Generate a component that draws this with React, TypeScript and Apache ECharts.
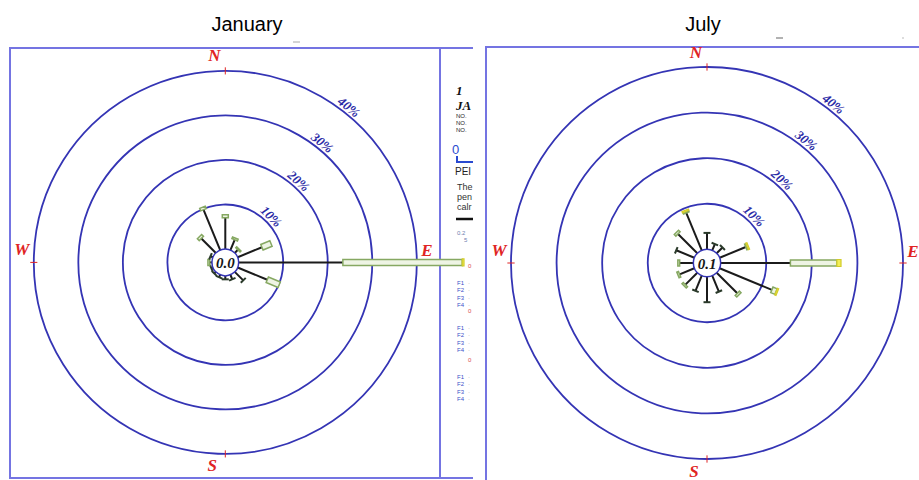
import React, { useEffect, useRef } from 'react';
import * as echarts from 'echarts';

const TITLES = ['January', 'July'];
const DIRECTIONS = ['N', 'NNE', 'NE', 'ENE', 'E', 'ESE', 'SE', 'SSE', 'S', 'SSW', 'SW', 'WSW', 'W', 'WNW', 'NW', 'NNW'];
const RING_LEVELS = [10, 20, 30, 40];
const RING_LABELS = ['10%', '20%', '30%', '40%'];
const RING_LABEL_ANGLES = [45, 42, 39, 38.5];
const COMPASS = ['N', 'E', 'S', 'W'];
const COMPASS_ANGLES = [0, 90, 180, 270];
const CALM_VALUES = ['0.0', '0.1'];

// percent frequency per speed class (class 1 = thin line, class 2 = bar, class 3 = tip)
const janClass1 = [7.0, 2.5, 1.0, 5.9, 23.4, 7.2, 2.7, 1.1, 0.8, 0.6, 0.5, 0.4, 0.5, 0.6, 4.6, 9.8];
const janClass2 = [0.7, 0.4, 0.3, 2.2, 26.8, 2.9, 0, 0, 0, 0, 0, 0, 0.4, 0, 0.6, 0.6];
const janClass3 = [0, 0, 0, 0, 0.4, 0, 0, 0, 0, 0, 0, 0, 0, 0, 0, 0];

const julClass1 = [3.6, 1.5, 1.8, 6.2, 15.3, 12.4, 6.4, 3.8, 5.6, 3.6, 3.7, 3.5, 3.0, 4.3, 6.0, 8.9];
const julClass2 = [0, 0, 0, 0.3, 10.2, 1.0, 0.5, 0, 0, 0, 0.4, 0.4, 0.4, 0, 0.5, 0.3];
const julClass3 = [0, 0, 0, 0.3, 0.9, 0.3, 0, 0, 0, 0, 0, 0, 0, 0, 0, 0.3];

const LEGEND_F = ['F1', 'F2', 'F3', 'F4'];

const AXIS_MIN = -3;
const AXIS_MAX = 40;

const RING_COLOR = '#3434b4';
const FRAME_COLOR = '#7474e2';
const RED = '#e02424';
const SERIF = '"Liberation Serif", "DejaVu Serif", serif';
const SANS = '"Liberation Sans", Arial, sans-serif';

function unit(api: any, ang: number) {
  const c = api.coord([AXIS_MIN, ang]);
  const f = api.coord([AXIS_MAX, ang]);
  const dx = f[0] - c[0];
  const dy = f[1] - c[1];
  const l = Math.sqrt(dx * dx + dy * dy) || 1;
  return { c, ux: dx / l, uy: dy / l };
}

function barPoly(a: number[], b: number[], nx: number, ny: number, w: number) {
  const h = w / 2;
  return [
    [a[0] + nx * h, a[1] + ny * h],
    [b[0] + nx * h, b[1] + ny * h],
    [b[0] - nx * h, b[1] - ny * h],
    [a[0] - nx * h, a[1] - ny * h],
  ];
}

function spokeRenderer(c1: number[], c2: number[], c3: number[]) {
  return (params: any, api: any) => {
    const i = params.dataIndex;
    const ang = i * 22.5;
    const { ux, uy } = unit(api, ang);
    const nx = -uy;
    const ny = ux;
    const e1 = c1[i];
    const e2 = e1 + c2[i];
    const e3 = e2 + c3[i];
    const p0 = api.coord([0, ang]);
    const p1 = api.coord([e1, ang]);
    const children: any[] = [
      {
        type: 'line',
        shape: { x1: p0[0], y1: p0[1], x2: p1[0], y2: p1[1] },
        style: { stroke: '#1b1b1b', lineWidth: 2 },
      },
    ];
    if (c2[i] > 0) {
      const p2 = api.coord([e2, ang]);
      children.push({
        type: 'polygon',
        shape: { points: barPoly(p1, p2, nx, ny, 6) },
        style: { fill: '#eef4e4', stroke: '#86a862', lineWidth: 1.5 },
      });
      if (c3[i] > 0) {
        const p3 = api.coord([e3, ang]);
        children.push({
          type: 'polygon',
          shape: { points: barPoly(p2, p3, nx, ny, 7) },
          style: { fill: '#f2ee58', stroke: '#d2cc2a', lineWidth: 1.2 },
        });
      }
    } else {
      children.push({
        type: 'line',
        shape: {
          x1: p1[0] - nx * 3.5,
          y1: p1[1] - ny * 3.5,
          x2: p1[0] + nx * 3.5,
          y2: p1[1] + ny * 3.5,
        },
        style: { stroke: '#2a3a2a', lineWidth: 2 },
      });
    }
    return { type: 'group', children };
  };
}

function ringRenderer(params: any, api: any) {
  const i = params.dataIndex;
  const v = RING_LEVELS[i];
  const c = api.coord([AXIS_MIN, 0]);
  const p = api.coord([v, 0]);
  const r = Math.sqrt((p[0] - c[0]) ** 2 + (p[1] - c[1]) ** 2);
  const la = RING_LABEL_ANGLES[i];
  const lp = api.coord([v + 1.6, la]);
  return {
    type: 'group',
    children: [
      {
        type: 'circle',
        shape: { cx: c[0], cy: c[1], r },
        style: { fill: 'none', stroke: RING_COLOR, lineWidth: 1.8 },
      },
      {
        type: 'text',
        x: lp[0],
        y: lp[1],
        rotation: (-la * Math.PI) / 180,
        style: {
          text: RING_LABELS[i],
          fill: '#2a2aa6',
          fontFamily: SERIF,
          fontWeight: 'bold',
          fontStyle: 'italic',
          fontSize: 13,
          align: 'center',
          verticalAlign: 'middle',
        },
      },
    ],
  };
}

const COMPASS_OFFSETS = [
  [-11, -15],
  [10, -12],
  [-13, 12],
  [-12, -13],
];

function compassRenderer(params: any, api: any) {
  const i = params.dataIndex;
  const ang = COMPASS_ANGLES[i];
  const a = api.coord([AXIS_MAX - 0.8, ang]);
  const b = api.coord([AXIS_MAX + 0.8, ang]);
  const m = api.coord([AXIS_MAX, ang]);
  const off = COMPASS_OFFSETS[i];
  return {
    type: 'group',
    children: [
      {
        type: 'line',
        shape: { x1: a[0], y1: a[1], x2: b[0], y2: b[1] },
        style: { stroke: RED, lineWidth: 1 },
      },
      {
        type: 'text',
        x: m[0] + off[0],
        y: m[1] + off[1],
        style: {
          text: COMPASS[i],
          fill: RED,
          fontFamily: SERIF,
          fontWeight: 'bold',
          fontStyle: 'italic',
          fontSize: 17,
          align: 'center',
          verticalAlign: 'middle',
        },
      },
    ],
  };
}

function calmRenderer(k: number) {
  return (params: any, api: any) => {
    const c = api.coord([AXIS_MIN, 0]);
    const p = api.coord([0, 0]);
    const r = Math.sqrt((p[0] - c[0]) ** 2 + (p[1] - c[1]) ** 2);
    return {
      type: 'group',
      children: [
        {
          type: 'circle',
          shape: { cx: c[0], cy: c[1], r },
          style: { fill: '#ffffff', stroke: RING_COLOR, lineWidth: 1.5 },
        },
        {
          type: 'text',
          x: c[0],
          y: c[1] + 1,
          style: {
            text: CALM_VALUES[k],
            fill: '#161616',
            fontFamily: SERIF,
            fontWeight: 'bold',
            fontStyle: 'italic',
            fontSize: 15,
            align: 'center',
            verticalAlign: 'middle',
          },
        },
      ],
    };
  };
}

function legendGraphics() {
  const g: any[] = [];
  const txt = (text: string, x: number, y: number, size: number, fill: string, extra: any = {}) =>
    g.push({
      type: 'text',
      x,
      y,
      z: 10,
      style: { text, fill, fontSize: size, fontFamily: SANS, verticalAlign: 'middle', ...extra },
    });
  txt('1', 456, 90, 13, '#111', { fontFamily: SERIF, fontWeight: 'bold', fontStyle: 'italic' });
  txt('JA', 456, 105, 13, '#111', { fontFamily: SERIF, fontWeight: 'bold', fontStyle: 'italic' });
  txt('NO.', 456, 116, 6, '#222');
  txt('NO.', 456, 123, 6, '#222');
  txt('NO.', 456, 130, 6, '#222');
  txt('0', 452, 149, 13, '#2a4ad0');
  g.push({
    type: 'polyline',
    z: 10,
    shape: { points: [[457, 156], [457, 162], [473, 162]] },
    style: { stroke: '#2a4ad0', lineWidth: 2, fill: 'none' },
  });
  txt('PEI', 455, 171, 10, '#222');
  txt('The', 457, 187, 9, '#333');
  txt('pen', 457, 197, 9, '#333');
  txt('calr', 457, 207, 9, '#333');
  g.push({
    type: 'line',
    z: 10,
    shape: { x1: 456, y1: 219, x2: 473, y2: 219 },
    style: { stroke: '#111', lineWidth: 2.5 },
  });
  txt('0.2', 457, 233, 6, '#7080b0');
  txt('5', 464, 240, 6, '#7080b0');
  const groups = [283, 328, 377];
  groups.forEach((gy) => {
    txt('0', 468, gy - 17, 6, '#d85050');
    LEGEND_F.forEach((f, j) => {
      txt(f, 457, gy + j * 7.3, 6, '#3a50c8');
      txt('·', 468, gy + j * 7.3, 6, '#999');
    });
  });
  return g;
}

function buildOption() {
  const seriesFor = (k: number, c1: number[], c2: number[], c3: number[]) => [
    {
      type: 'custom',
      coordinateSystem: 'polar',
      polarIndex: k,
      z: 1,
      silent: true,
      data: RING_LEVELS.map((v) => [v, 0]),
      renderItem: ringRenderer,
    },
    {
      type: 'custom',
      coordinateSystem: 'polar',
      polarIndex: k,
      z: 2,
      silent: true,
      data: COMPASS_ANGLES.map((a) => [AXIS_MAX, a]),
      renderItem: compassRenderer,
    },
    {
      type: 'custom',
      coordinateSystem: 'polar',
      polarIndex: k,
      z: 3,
      silent: true,
      data: DIRECTIONS.map((d, i) => [c1[i] + c2[i] + c3[i], i * 22.5]),
      renderItem: spokeRenderer(c1, c2, c3),
    },
    {
      type: 'custom',
      coordinateSystem: 'polar',
      polarIndex: k,
      z: 4,
      silent: true,
      data: [[0, 0]],
      renderItem: calmRenderer(k),
    },
  ];

  const hiddenAxis = {
    show: false,
    axisLine: { show: false },
    axisTick: { show: false },
    axisLabel: { show: false },
    splitLine: { show: false },
    splitArea: { show: false },
  };

  return {
    animation: false,
    backgroundColor: '#ffffff',
    polar: [
      { center: [225.3, 262.4], radius: 191.5 },
      { center: [707, 263], radius: 196 },
    ],
    radiusAxis: [0, 1].map((k) => ({ polarIndex: k, type: 'value', min: AXIS_MIN, max: AXIS_MAX, ...hiddenAxis })),
    angleAxis: [0, 1].map((k) => ({
      polarIndex: k,
      type: 'value',
      min: 0,
      max: 360,
      startAngle: 90,
      clockwise: true,
      ...hiddenAxis,
    })),
    graphic: [
      {
        type: 'text',
        x: 247,
        y: 24,
        style: { text: TITLES[0], fontSize: 20, fontFamily: SANS, fill: '#000', align: 'center', verticalAlign: 'middle' },
      },
      {
        type: 'text',
        x: 703,
        y: 24,
        style: { text: TITLES[1], fontSize: 20, fontFamily: SANS, fill: '#000', align: 'center', verticalAlign: 'middle' },
      },
      {
        type: 'rect',
        shape: { x: 10, y: 48, width: 430, height: 430 },
        style: { fill: 'none', stroke: FRAME_COLOR, lineWidth: 2 },
      },
      {
        type: 'polyline',
        shape: { points: [[440, 48], [473, 48]] },
        style: { stroke: FRAME_COLOR, lineWidth: 2, fill: 'none' },
      },
      {
        type: 'polyline',
        shape: { points: [[440, 478], [473, 478]] },
        style: { stroke: FRAME_COLOR, lineWidth: 2, fill: 'none' },
      },
      {
        type: 'polyline',
        shape: { points: [[486, 482], [486, 47], [921, 47]] },
        style: { stroke: FRAME_COLOR, lineWidth: 2, fill: 'none' },
      },
      { type: 'line', shape: { x1: 293, y1: 42, x2: 300, y2: 42 }, style: { stroke: '#aaa', lineWidth: 1 } },
      { type: 'line', shape: { x1: 776, y1: 38, x2: 783, y2: 38 }, style: { stroke: '#999', lineWidth: 1.5 } },
      { type: 'line', shape: { x1: 902, y1: 38, x2: 904, y2: 38 }, style: { stroke: '#bbb', lineWidth: 1 } },
      ...legendGraphics(),
    ],
    series: [...seriesFor(0, janClass1, janClass2, janClass3), ...seriesFor(1, julClass1, julClass2, julClass3)],
  };
}

export default function App() {
  const ref = useRef<HTMLDivElement>(null);
  useEffect(() => {
    if (!ref.current) return;
    const chart = echarts.init(ref.current, undefined, { renderer: 'svg' });
    chart.setOption(buildOption() as any);
    return () => chart.dispose();
  }, []);
  return (
    <div
      ref={ref}
      style={{ position: 'fixed', left: 0, top: 0, width: 919, height: 480, background: '#fff' }}
    />
  );
}
